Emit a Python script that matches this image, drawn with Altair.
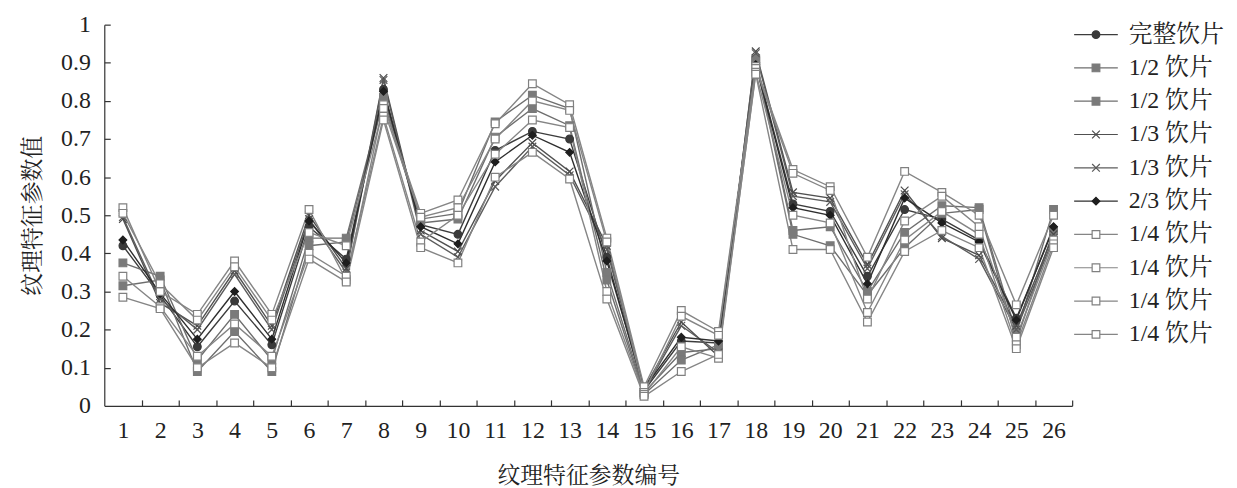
import altair as alt
import pandas as pd

categories = list(range(1, 27))
series_ids = ["s1", "s2", "s3", "s4", "s5", "s6", "s7", "s8", "s9", "s10"]
series_names = ["完整饮片", "1/2 饮片", "1/2 饮片", "1/3 饮片", "1/3 饮片",
                "2/3 饮片", "1/4 饮片", "1/4 饮片", "1/4 饮片", "1/4 饮片"]

s1 = [0.42, 0.29, 0.155, 0.275, 0.16, 0.47, 0.385, 0.83, 0.475, 0.45, 0.67, 0.72, 0.70,
      0.39, 0.04, 0.17, 0.165, 0.90, 0.53, 0.51, 0.34, 0.515, 0.49, 0.435, 0.23, 0.465]
s2 = [0.375, 0.34, 0.12, 0.24, 0.12, 0.44, 0.44, 0.81, 0.49, 0.505, 0.745, 0.815, 0.78,
      0.35, 0.035, 0.14, 0.15, 0.91, 0.46, 0.47, 0.30, 0.455, 0.525, 0.52, 0.19, 0.515]
s3 = [0.315, 0.33, 0.09, 0.195, 0.09, 0.42, 0.43, 0.80, 0.48, 0.49, 0.705, 0.78, 0.735,
      0.33, 0.03, 0.12, 0.16, 0.905, 0.45, 0.42, 0.29, 0.415, 0.505, 0.515, 0.17, 0.46]
s4 = [0.49, 0.27, 0.21, 0.355, 0.21, 0.50, 0.36, 0.86, 0.46, 0.405, 0.59, 0.69, 0.615,
      0.42, 0.045, 0.22, 0.13, 0.93, 0.56, 0.545, 0.37, 0.565, 0.44, 0.395, 0.21, 0.45]
s5 = [0.495, 0.28, 0.20, 0.345, 0.20, 0.49, 0.35, 0.855, 0.45, 0.39, 0.575, 0.68, 0.605,
      0.41, 0.04, 0.21, 0.14, 0.925, 0.55, 0.535, 0.36, 0.555, 0.445, 0.385, 0.20, 0.44]
s6 = [0.435, 0.295, 0.175, 0.30, 0.175, 0.485, 0.375, 0.825, 0.47, 0.425, 0.64, 0.71, 0.665,
      0.38, 0.045, 0.18, 0.17, 0.895, 0.52, 0.50, 0.32, 0.545, 0.48, 0.43, 0.225, 0.47]
s7 = [0.52, 0.30, 0.24, 0.38, 0.24, 0.515, 0.33, 0.79, 0.505, 0.54, 0.74, 0.845, 0.79,
      0.44, 0.05, 0.25, 0.195, 0.89, 0.62, 0.575, 0.39, 0.615, 0.56, 0.50, 0.265, 0.50]
s8 = [0.505, 0.32, 0.225, 0.365, 0.225, 0.455, 0.42, 0.78, 0.495, 0.52, 0.70, 0.80, 0.775,
      0.43, 0.035, 0.235, 0.185, 0.885, 0.61, 0.565, 0.28, 0.485, 0.55, 0.47, 0.18, 0.435]
s9 = [0.34, 0.26, 0.13, 0.215, 0.13, 0.40, 0.34, 0.76, 0.43, 0.50, 0.66, 0.75, 0.73,
      0.30, 0.03, 0.155, 0.125, 0.875, 0.50, 0.48, 0.245, 0.435, 0.51, 0.45, 0.16, 0.425]
s10 = [0.285, 0.255, 0.10, 0.165, 0.10, 0.385, 0.325, 0.75, 0.415, 0.375, 0.60, 0.665, 0.595,
       0.28, 0.025, 0.09, 0.135, 0.87, 0.41, 0.41, 0.22, 0.405, 0.46, 0.415, 0.15, 0.415]

all_values = [s1, s2, s3, s4, s5, s6, s7, s8, s9, s10]

y_ticks = [0, 0.1, 0.2, 0.3, 0.4, 0.5, 0.6, 0.7, 0.8, 0.9, 1.0]
x_tick_marks = [c + 0.5 for c in categories]

# styles
line_colors = ["#3c3c3c", "#6e6e6e", "#6e6e6e", "#505050", "#5c5c5c",
               "#2e2e2e", "#858585", "#858585", "#858585", "#858585"]
fill_colors = ["#3a3a3a", "#7a7a7a", "#7a7a7a", "transparent", "transparent",
               "#1e1e1e", "white", "white", "white", "white"]
stroke_colors = ["#3a3a3a", "#7a7a7a", "#7a7a7a", "#4a4a4a", "#5a5a5a",
                 "#1e1e1e", "#808080", "#808080", "#808080", "#808080"]
XPATH = "M-1,-1L1,1M-1,1L1,-1"
shapes = ["circle", "square", "square", XPATH, XPATH,
          "diamond", "square", "square", "square", "square"]

rows = []
for sid, vals in zip(series_ids, all_values):
    for c, v in zip(categories, vals):
        rows.append({"series": sid, "cat": c, "value": v})
df = pd.DataFrame(rows)
legend_df = pd.DataFrame({"series": series_ids, "name": series_names})

FONT = "Liberation Serif, Noto Serif CJK SC, Noto Sans CJK SC"
W, H = 975, 384

xscale = alt.Scale(domain=[0.5, 26.5], nice=False, zero=False)
yscale = alt.Scale(domain=[0, 1], nice=False, zero=True)

color_enc = alt.Color("series:N", scale=alt.Scale(domain=series_ids, range=line_colors), legend=None)
fill_enc = alt.Fill("series:N", scale=alt.Scale(domain=series_ids, range=fill_colors), legend=None)
stroke_enc = alt.Stroke("series:N", scale=alt.Scale(domain=series_ids, range=stroke_colors), legend=None)
shape_enc = alt.Shape("series:N", scale=alt.Scale(domain=series_ids, range=shapes), legend=None)

base = alt.Chart(df)

lines = base.mark_line(strokeWidth=1.4).encode(
    x=alt.X("cat:Q", scale=xscale,
            axis=alt.Axis(values=categories, format="d", ticks=False, grid=False,
                          title="纹理特征参数编号", labelFontSize=24, titleFontSize=23,
                          labelPadding=13, titlePadding=22, labelFont=FONT, titleFont=FONT,
                          labelFlush=False)),
    y=alt.Y("value:Q", scale=yscale,
            axis=alt.Axis(values=y_ticks, format=".1~f", ticks=False, grid=False,
                          title="纹理特征参数值", labelFontSize=24, titleFontSize=23,
                          labelPadding=14, titlePadding=16, labelFont=FONT, titleFont=FONT,
                          labelFlush=False)),
    color=color_enc,
    detail="series:N",
    order="cat:Q",
)

points = base.mark_point(filled=False, size=60, strokeWidth=1.2, opacity=1).encode(
    x=alt.X("cat:Q", scale=xscale, axis=None),
    y=alt.Y("value:Q", scale=yscale, axis=None),
    shape=shape_enc,
    fill=fill_enc,
    stroke=stroke_enc,
)

tick_layer = base.mark_point(opacity=0).encode(
    x=alt.X("cat:Q", scale=xscale,
            axis=alt.Axis(orient="top", offset=-H, values=x_tick_marks, labels=False,
                          domain=False, ticks=True, tickSize=6, grid=False, title=None)),
    y=alt.Y("value:Q", scale=yscale,
            axis=alt.Axis(orient="right", offset=-W, values=y_ticks[1:], labels=False,
                          domain=False, ticks=True, tickSize=6, grid=False, title=None)),
)

leg_y = alt.Y("series:O", scale=alt.Scale(type="point", domain=series_ids, range=[10, 312], padding=0),
              axis=None)
legend_base = alt.Chart(legend_df)
leg_rule = legend_base.mark_rule(strokeWidth=1.2).encode(
    x=alt.value(W + 2), x2=alt.value(W + 46), y=leg_y, color=color_enc)
leg_pt = legend_base.mark_point(size=60, strokeWidth=1.2, opacity=1).encode(
    x=alt.value(W + 24), y=leg_y, shape=shape_enc, fill=fill_enc, stroke=stroke_enc)
leg_txt = legend_base.mark_text(align="left", baseline="middle", fontSize=24, font=FONT,
                                color="#222").encode(
    x=alt.value(W + 57), y=leg_y, text="name:N")

chart = alt.layer(lines, points, tick_layer, leg_rule, leg_pt, leg_txt).resolve_scale(
    x="independent", y="independent"
).properties(
    width=W, height=H, background="white",
    padding={"left": 14, "top": 3, "right": 5, "bottom": 2}
).configure_view(stroke=None).configure_axis(
    domainColor="#333", tickColor="#333", labelColor="#222", titleColor="#222",
    titleFontWeight="normal", domainWidth=1.2, tickWidth=1.2
)

chart.save("out.html", embed_options={"renderer": "svg", "actions": False})
